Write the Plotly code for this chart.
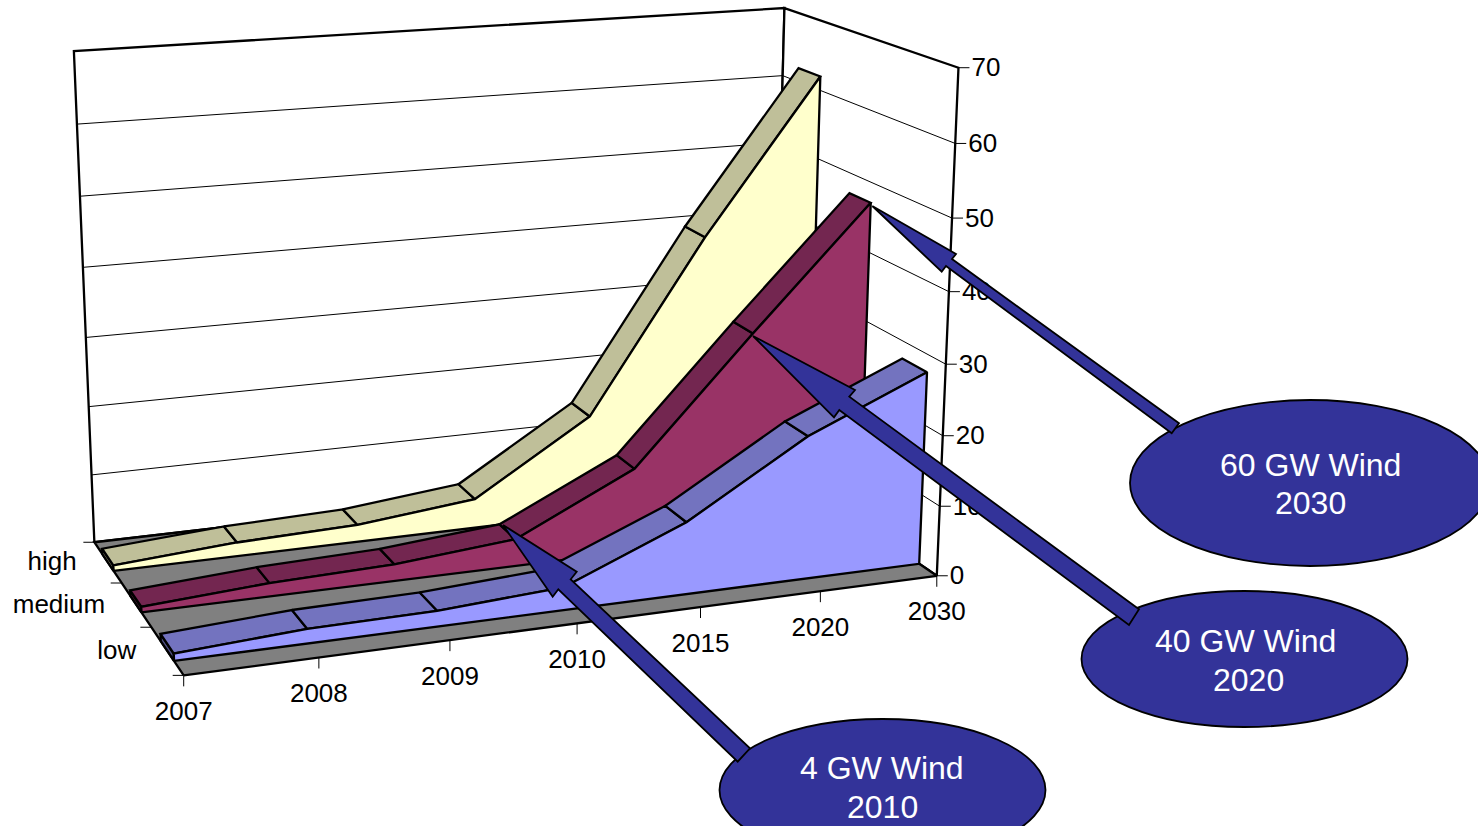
import numpy as np
import plotly.graph_objects as go

# Chart data
years = ["2007", "2008", "2009", "2010", "2015", "2020", "2030"]
scenarios = ["low", "medium", "high"]
low_values = [1.0, 2.0, 2.2, 3.2, 10.2, 20.3, 27.5]
medium_values = [0.8, 1.9, 2.4, 3.9, 12.1, 29.9, 47.1]
high_values = [0.8, 2.0, 2.5, 4.3, 14.8, 39.8, 62.0]
value_ticks = [0, 10, 20, 30, 40, 50, 60, 70]
value_max = 70

callout_titles = ["60 GW Wind", "40 GW Wind", "4 GW Wind"]
callout_years = ["2030", "2020", "2010"]

FONT = "Liberation Sans"
BACK_FRAC = 0.70

# Camera calibration: box coordinates (category, depth, height) -> screen pixels
view_points = [
    ((0, 0, 0), (183.3, 675)), ((1, 0, 0), (937.5, 576.5)),
    ((0, 1, 0), (95, 543.3)), ((1, 1, 0), (772, 463)),
    ((0, 1, 1), (73.7, 51)), ((1, 1, 1), (785, 8)), ((1, 0, 1), (958.3, 67.7)),
    ((1, 0, 6 / 7), (955, 144)), ((1, 0, 5 / 7), (952.3, 218)),
    ((1, 0, 4 / 7), (948.5, 291.5)), ((1, 0, 3 / 7), (945.5, 363.5)),
    ((1, 0, 2 / 7), (943, 436)), ((1, 0, 1 / 7), (940, 506)),
    ((1 / 6, 0, 0), (319.3, 657)), ((2 / 6, 0, 0), (451, 640)),
    ((3 / 6, 0, 0), (577, 623)), ((4 / 6, 0, 0), (700, 607)), ((5 / 6, 0, 0), (820, 592)),
    ((0, 1 / 3, 0), (150.7, 627.7)), ((0, 2 / 3, 0), (121.5, 582.3)),
]


def solve_camera(points):
    rows = []
    for (u, v, w), (x, y) in points:
        rows.append([u, v, w, 1, 0, 0, 0, 0, -x * u, -x * v, -x * w, -x])
        rows.append([0, 0, 0, 0, u, v, w, 1, -y * u, -y * v, -y * w, -y])
    return np.linalg.svd(np.array(rows))[2][-1].reshape(3, 4)


CAMERA = solve_camera(view_points)


def project(u, v, w):
    px, py, pw = CAMERA @ np.array([u, v, w, 1.0])
    return px / pw, py / pw


def path(points):
    xy = [project(*p) for p in points]
    return [a for a, _ in xy], [b for _, b in xy]


fig = go.Figure()


def polygon(points, fill, width=2.3):
    x, y = path(points)
    fig.add_trace(go.Scatter(x=x + x[:1], y=y + y[:1], mode="lines", fill="toself",
                             fillcolor=fill, line=dict(color="black", width=width),
                             hoverinfo="skip", showlegend=False))


def segment(x, y, width=1):
    fig.add_trace(go.Scatter(x=x, y=y, mode="lines", line=dict(color="black", width=width),
                             hoverinfo="skip", showlegend=False))


def labels(x, y, text, position):
    fig.add_trace(go.Scatter(x=x, y=y, text=text, mode="text", textposition=position,
                             textfont=dict(family=FONT, size=26, color="black"),
                             hoverinfo="skip", showlegend=False))


# Walls and floor
polygon([(0, 1, 0), (1, 1, 0), (1, 1, 1), (0, 1, 1)], "white")
polygon([(1, 1, 0), (1, 0, 0), (1, 0, 1), (1, 1, 1)], "white")
for tick in value_ticks[1:-1]:
    h = tick / value_max
    segment(*path([(0, 1, h), (1, 1, h), (1, 0, h)]))
polygon([(0, 0, 0), (1, 0, 0), (1, 1, 0), (0, 1, 0)], "#808080")

# Axis tick marks and labels
n_years = len(years)
for tick in value_ticks:
    x, y = project(1, 0, tick / value_max)
    segment([x, x + 11], [y, y])
labels([project(1, 0, t / value_max)[0] + 13 for t in value_ticks],
       [project(1, 0, t / value_max)[1] + 2 for t in value_ticks],
       [str(t) for t in value_ticks], "middle right")
for i in range(n_years):
    x, y = project(i / (n_years - 1), 0, 0)
    segment([x, x], [y, y + 11])
labels([project(i / (n_years - 1), 0, 0)[0] for i in range(n_years)],
       [project(i / (n_years - 1), 0, 0)[1] + 38 for i in range(n_years)],
       years, "middle center")
for k in range(len(scenarios) + 1):
    x, y = project(0, k / len(scenarios), 0)
    segment([x - 11, x], [y, y])
depth_mid = [project(0, (k + 0.5) / len(scenarios), 0) for k in range(len(scenarios))]
labels([p[0] - 31 for p in depth_mid], [p[1] + 1.5 for p in depth_mid], scenarios, "middle left")

# Area series, back to front: values, depth slot, front offset in slot, face, top band, end cap
series = [
    (high_values, 2, 0.29, "#FFFFCC", "#BFBF99", "#808066"),
    (medium_values, 1, 0.325, "#993366", "#732650", "#4D1A33"),
    (low_values, 0, 0.29, "#9999FF", "#7373BF", "#4D4D80"),
]
for values, slot, front, face, band, side in series:
    v0 = (slot + front) / len(scenarios)
    v1 = (slot + BACK_FRAC) / len(scenarios)
    us = [i / (n_years - 1) for i in range(n_years)]
    hs = [val / value_max for val in values]
    polygon([(0, v0, 0), (0, v1, 0), (0, v1, hs[0]), (0, v0, hs[0])], side)
    for i in range(n_years - 1):
        polygon([(us[i], v0, hs[i]), (us[i], v1, hs[i]),
                 (us[i + 1], v1, hs[i + 1]), (us[i + 1], v0, hs[i + 1])], band)
    polygon([(0, v0, 0)] + [(u, v0, h) for u, h in zip(us, hs)] + [(1, v0, 0)], face)

# Callout bubbles sit under their arrows
bubbles = [(1310, 483, 180, 83), (1244.5, 659, 163, 68), (882.5, 790, 163, 71)]
shapes = [dict(type="circle", xref="x", yref="y", x0=cx - rx, x1=cx + rx, y0=cy - ry, y1=cy + ry,
               layer="below", fillcolor="#333399", line=dict(color="black", width=1.8))
          for cx, cy, rx, ry in bubbles]

# Callout arrows: tip, head wing, neck, tail, tail, neck, head wing
callout_arrows = [
    [(872.3, 206), (956, 254), (952, 259), (1179, 423.3), (1171.7, 433.3), (946, 266), (941.7, 271.7)],
    [(753, 336), (855, 390), (849.3, 396.7), (1139, 609.3), (1129, 625), (839.3, 410), (834, 417.3)],
    [(503, 525), (576.7, 571.7), (570.7, 579.3), (750, 748.3), (737.7, 761.7), (558.3, 589.3), (552.7, 596.7)],
]
for arrow in callout_arrows:
    ax = [p[0] for p in arrow] + [arrow[0][0]]
    ay = [p[1] for p in arrow] + [arrow[0][1]]
    fig.add_trace(go.Scatter(x=ax, y=ay, mode="lines", fill="toself", fillcolor="#333399",
                             line=dict(color="black", width=1.8), hoverinfo="skip", showlegend=False))

# Callout text, one annotation per line
title_anchor = [(1310, 465), (1245, 641), (882, 768)]
year_anchor = [(1310, 503), (1248, 680), (882, 807)]
annotations = []
for text, (x, y) in zip(callout_titles + callout_years, title_anchor + year_anchor):
    annotations.append(dict(x=x, y=y, xref="x", yref="y", text=text, showarrow=False,
                            font=dict(family=FONT, size=32, color="white")))

fig.update_layout(
    width=1478, height=826, margin=dict(l=0, r=0, t=0, b=0), autosize=False,
    paper_bgcolor="white", plot_bgcolor="white", showlegend=False,
    xaxis=dict(range=[0, 1478], visible=False, fixedrange=True),
    yaxis=dict(range=[826, 0], visible=False, fixedrange=True),
    shapes=shapes, annotations=annotations,
)
fig.write_html("out.html")
